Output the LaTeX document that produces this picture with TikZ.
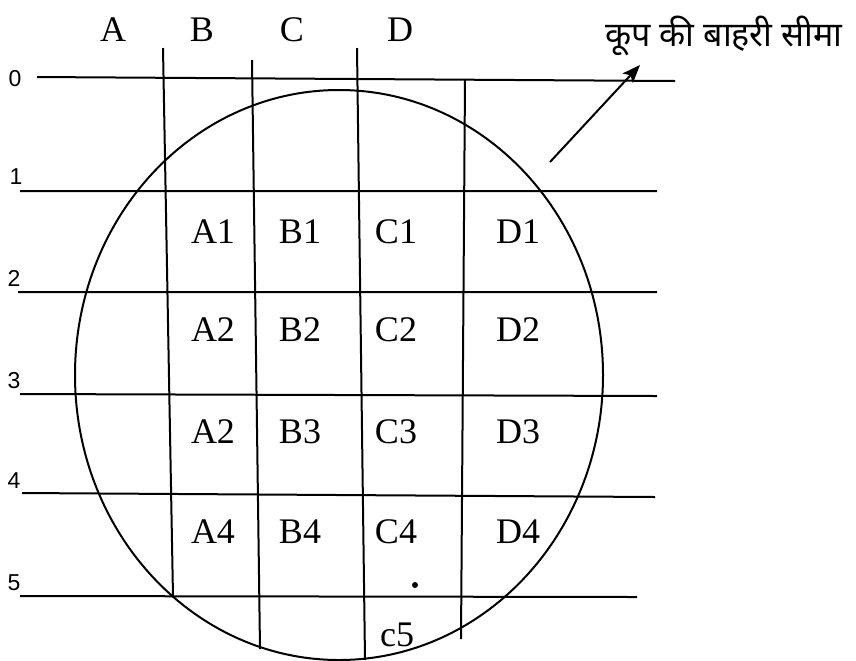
\documentclass[tikz,border=0pt]{standalone}
\usepackage{fontspec}
\setmainfont{Liberation Serif}
\newfontfamily\numfont{Liberation Sans}
\newfontfamily\hindifont[Script=Devanagari]{Noto Sans}
\usetikzlibrary{arrows.meta}

\begin{document}
\begin{tikzpicture}[x=0.5pt,y=-0.5pt,line width=1pt,
  cell/.style={inner sep=0pt,font=\fontsize{18}{20}\selectfont},
  rownum/.style={inner sep=0pt,font=\numfont\fontsize{11.5}{13}\selectfont}]
\useasboundingbox (0,0) rectangle (856,660);
% horizontal lines
\draw (37,77)--(675,81)
(20,191)--(657,191)
(18,292)--(657,292)
(20,394)--(657,396)
(22,493)--(655,497)
(20,596)--(637,597);
% vertical lines
\draw (163,48)--(173,597)
(252,60)--(260,649)
(357,48)--(365,660)
(465,80)--(461,639);
% well boundary
\draw (339,375) ellipse [x radius=264,y radius=285];
\fill (415,585) circle [radius=3];
% column letters
\draw (113,30)node[cell](colA){A}
(202,30)node[cell](colB){B}
(292,30)node[cell](colC){C}
(400,30)node[cell](colD){D};
% row numbers
\draw (15,79)node[rownum](row0){0}
(16,177)node[rownum](row1){1}
(14,278)node[rownum](row2){2}
(14,381)node[rownum](row3){3}
(14,481)node[rownum](row4){4}
(14,583)node[rownum](row5){5};
% cells
\draw (213,232)node[cell](cellA1){A1}
(300,232)node[cell](cellB1){B1}
(396,232)node[cell](cellC1){C1}
(518,232)node[cell](cellD1){D1}
(213,330)node[cell](cellA2){A2}
(300,330)node[cell](cellB2){B2}
(396,330)node[cell](cellC2){C2}
(518,330)node[cell](cellD2){D2}
(213,432)node[cell](cellA3){A2}
(300,432)node[cell](cellB3){B3}
(396,432)node[cell](cellC3){C3}
(518,432)node[cell](cellD3){D3}
(213,532)node[cell](cellA4){A4}
(300,532)node[cell](cellB4){B4}
(396,532)node[cell](cellC4){C4}
(518,532)node[cell](cellD4){D4}
(397,635)node[cell](cellc5){c5};
% label and arrow
\node[inner sep=0pt,font=\hindifont\fontsize{17}{19}\selectfont] (edge) at (724,36) {कूप की बाहरी सीमा};
\coordinate (tail) at (550,162);
\coordinate (tip) at (640,65);
\draw[-{Stealth[length=9pt,width=7pt,inset=2pt]}] (tail)--(tip);
\end{tikzpicture}
\end{document}
